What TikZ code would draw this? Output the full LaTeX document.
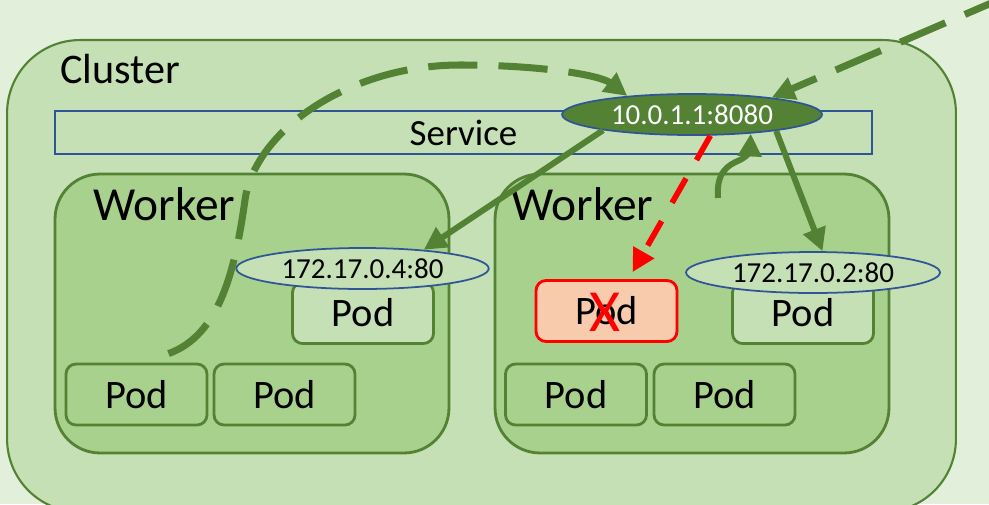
\documentclass[tikz,border=0pt]{standalone}
\usepackage{fontspec}
\setmainfont{Carlito}
\usetikzlibrary{shapes.geometric,arrows.meta}

\definecolor{bggreen}{HTML}{E2EFDA}
\definecolor{lightgreen}{HTML}{C5E0B4}
\definecolor{midgreen}{HTML}{A9D18E}
\definecolor{kgreen}{HTML}{548235}
\definecolor{kblue}{HTML}{2F5597}
\definecolor{salmon}{HTML}{F8CBAD}

\begin{document}
\begin{tikzpicture}[x=0.02cm,y=-0.02cm]

\tikzstyle{cluster}=[rectangle,draw=kgreen,fill=lightgreen,line width=1.2pt,rounded corners=1.46cm,minimum width=18.98cm,minimum height=9.44cm]
\tikzstyle{worker}=[rectangle,draw=kgreen,fill=midgreen,line width=1.6pt,rounded corners=0.9cm,minimum width=7.88cm,minimum height=5.58cm]
\tikzstyle{pod}=[rectangle,draw=kgreen,fill=midgreen,line width=1.6pt,rounded corners=0.2cm,minimum width=2.82cm,minimum height=1.22cm,font=\fontsize{23}{27}\selectfont]
\tikzstyle{pod2}=[pod,fill=lightgreen]
\tikzstyle{deadpod}=[pod,draw=red,fill=salmon]
\tikzstyle{ep}=[ellipse,draw=kblue,fill=lightgreen,line width=1pt,minimum width=5.05cm,minimum height=0.82cm,inner sep=0pt,font=\fontsize{16.5}{20}\selectfont]
\tikzstyle{vipep}=[ep,fill=kgreen,text=white,minimum width=5.2cm]
\tikzstyle{heading}=[anchor=base west,inner sep=0pt]
\tikzstyle{flow}=[draw=kgreen,line width=3.4pt,-{Triangle[length=13pt,width=13pt]}]
\tikzstyle{flowdash}=[flow,line width=4pt,dash pattern=on 28pt off 12pt]
\tikzstyle{fail}=[flow,draw=red,line width=3.2pt,dash pattern=on 16pt off 12pt]

\useasboundingbox (0,0) rectangle (989,504);
\clip (0,0) rectangle (989,504);
\fill[bggreen] (0,0) rectangle (989,504);

% cluster and service
\node[cluster] (cluster) at (481.5,276) {};
\node[heading,font=\fontsize{24}{28}\selectfont] (clustertxt) at (60,83) {Cluster};
\node[rectangle,draw=kblue,line width=1pt,minimum width=16.34cm,minimum height=0.86cm,font=\fontsize{21}{25}\selectfont] (service) at (463.5,132.5) {Service};

% workers
\node[worker] (w1) at (252,313.5) {};
\node[worker] (w2) at (692,313.5) {};
\node[heading,font=\fontsize{27}{32}\selectfont] (w1txt) at (93,220) {Worker};
\node[heading,font=\fontsize{27}{32}\selectfont] (w2txt) at (511,220) {Worker};

% pods
\node[pod] (podA) at (136.5,394.5) {Pod};
\node[pod] (podB) at (284.5,394.5) {Pod};
\node[pod2] (podC) at (363,313) {Pod};
\node[deadpod] (podR) at (606.5,311) {Pod};
\node[pod2] (podD) at (803,313) {Pod};
\node[pod] (podE) at (576,394.5) {Pod};
\node[pod] (podF) at (724.5,394.5) {Pod};
\node[text=red,font=\fontsize{34}{38}\selectfont,inner sep=0pt] (cross) at (604.5,312) {X};

% endpoints
\node[ep] (ep4) at (362.5,268.5) {172.17.0.4:80};
\node[ep,minimum width=5.08cm] (ep2) at (813,272.5) {172.17.0.2:80};
\node[vipep] (vip) at (692,114.5) {10.0.1.1:8080};

% traffic
\coordinate (client) at (1010,-5);
\coordinate (probe) at (718,198);
\draw[flowdash] (client) -- (vip.12);
\draw[flowdash] ([shift={(32,-9)}]podA.north) .. controls (220,335) and (235,270) .. (245,200) .. controls (255,130) and (350,65) .. (460,65) .. controls (540,65) and (600,75) .. (vip.164);
\draw[flow] (vip.190) -- (ep4.17);
\draw[flow] (vip.-11) -- (ep2.66);
\draw[fail] (vip.-49) -- ([shift={(26,-7)}]podR.north);
\draw[flow] (probe) .. controls (716,172) and (728,165) .. (740,160) .. controls (748,156) and (750,150) .. (vip.-18);
\end{tikzpicture}
\end{document}
